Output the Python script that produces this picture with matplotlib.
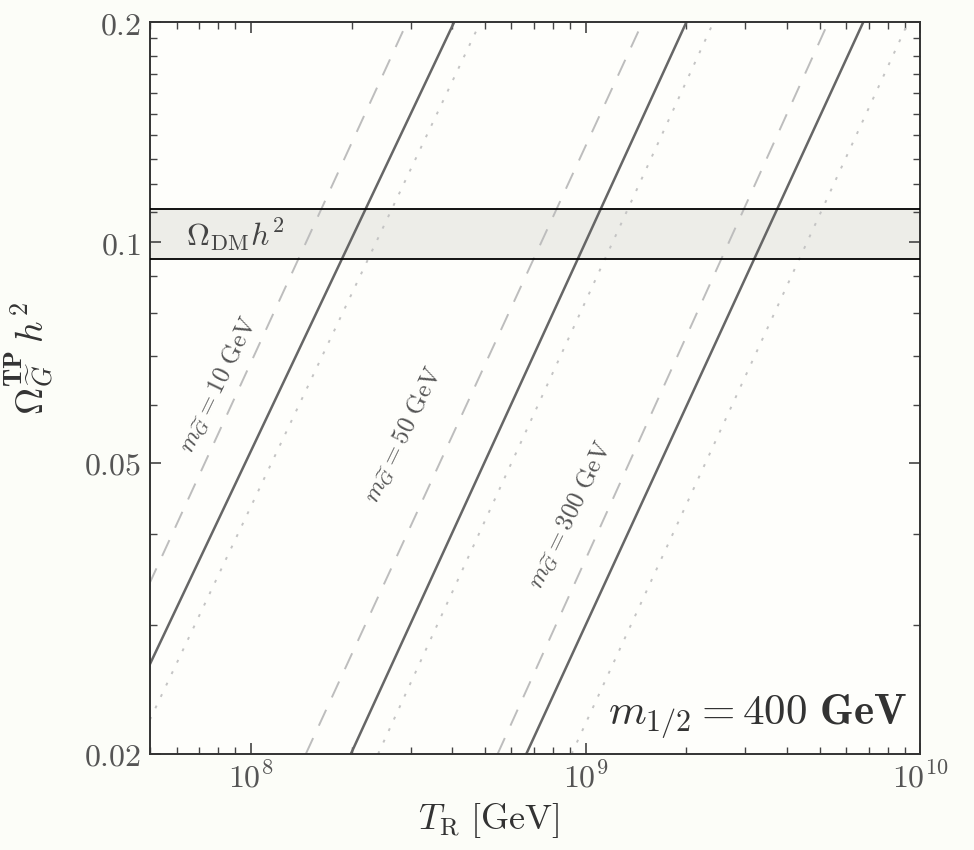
import numpy as np
import matplotlib
matplotlib.use("Agg")
import matplotlib.pyplot as plt
from matplotlib.ticker import FixedLocator, FixedFormatter, NullFormatter

plt.rcParams['mathtext.fontset'] = 'cm'
plt.rcParams['font.family'] = ['DejaVu Serif']

# line end points: T_R [GeV] where each curve is at omega_ends
omega_ends = [0.02, 0.2]
solid_10 = [3.73e7, 4.05e8]
solid_50 = [1.99e8, 2.0e9]
solid_300 = [6.65e8, 6.75e9]
dashed_10 = [2.91e7, 2.93e8]
dashed_50 = [1.46e8, 1.48e9]
dashed_300 = [5.46e8, 5.31e9]
dotted_10 = [4.47e7, 4.85e8]
dotted_50 = [2.40e8, 2.41e9]
dotted_300 = [9.08e8, 9.2e9]

band = [0.095, 0.111]
masses = ["10", "50", "300"]

x_major = [1e8, 1e9, 1e10]
x_major_labels = ["$10^{8}$", "$10^{9}$", "$10^{10}$"]
y_major = [0.02, 0.05, 0.1, 0.2]
y_major_labels = ["$0.02$", "$0.05$", "$0.1$", "$0.2$"]
y_minor = [0.03, 0.04, 0.06, 0.07, 0.08, 0.09, 0.11, 0.12, 0.13, 0.14,
           0.15, 0.16, 0.17, 0.18, 0.19]

fig = plt.figure(figsize=(9.74, 8.5), dpi=100, facecolor='#fcfdf8')
ax = fig.add_axes([0.154, 0.113, 0.791, 0.861])
ax.set_facecolor('#fefefb')

ax.axhspan(band[0], band[1], facecolor='#ededE8', edgecolor='none', zorder=0)
ax.axhline(band[0], color='black', lw=1.3, zorder=3)
ax.axhline(band[1], color='black', lw=1.3, zorder=3)

for xs in [solid_10, solid_50, solid_300]:
    ax.plot(xs, omega_ends, color='#666666', lw=1.8, zorder=2)
for xs in [dashed_10, dashed_50, dashed_300]:
    ax.plot(xs, omega_ends, color='#bdbdbd', lw=1.4, dashes=(9, 7), zorder=2)
for xs in [dotted_10, dotted_50, dotted_300]:
    ax.plot(xs, omega_ends, color='#c4c4c4', lw=1.4, dashes=(1.5, 5), zorder=2)

ax.set_xscale('log')
ax.set_yscale('log')
ax.set_xlim(5e7, 1e10)
ax.set_ylim(0.02, 0.2)

ax.xaxis.set_major_locator(FixedLocator(x_major))
ax.xaxis.set_major_formatter(FixedFormatter(x_major_labels))
ax.xaxis.set_minor_formatter(NullFormatter())
ax.yaxis.set_major_locator(FixedLocator(y_major))
ax.yaxis.set_major_formatter(FixedFormatter(y_major_labels))
ax.yaxis.set_minor_locator(FixedLocator(y_minor))
ax.yaxis.set_minor_formatter(NullFormatter())

ax.tick_params(which='both', direction='in', top=True, right=True, color='#444444')
ax.tick_params(which='major', length=8, width=1.2, labelsize=23, labelcolor='#555555', pad=6)
ax.tick_params(which='minor', length=5, width=1.0)
for s in ax.spines.values():
    s.set_linewidth(1.4)
    s.set_color('#333333')

label_pos = [(8.0e7, 0.0640), (2.85e8, 0.0546), (9.0e8, 0.0424)]
for m, (tx, ty) in zip(masses, label_pos):
    ax.text(tx, ty, r"$m_{\widetilde{G}} = %s\ \mathrm{GeV}$" % m, rotation=64,
            rotation_mode='anchor', ha='center', va='center', fontsize=18,
            color='#555555')

ax.text(6.4e7, 0.1025, r"$\Omega_{\mathrm{DM}}h^2$", fontsize=23, color='#444444',
        ha='left', va='center')
ax.text(0.982, 0.052, r"$m_{1/2} = \mathbf{400\ GeV}$", transform=ax.transAxes,
        fontsize=31, color='#333333', ha='right', va='center')

ax.set_xlabel(r"$T_{\mathrm{R}}\ [\mathrm{GeV}]$", fontsize=26, color='#333333')
ax.xaxis.set_label_coords(0.44, -0.064)
ax.set_ylabel(r"$\mathbf{\Omega}^{\mathbf{TP}}_{\widetilde{G}}\,h^2$", fontsize=27,
              color='#333333')
ax.yaxis.set_label_coords(-0.122, 0.54)

fig.savefig("out.png", dpi=100, facecolor=fig.get_facecolor())
